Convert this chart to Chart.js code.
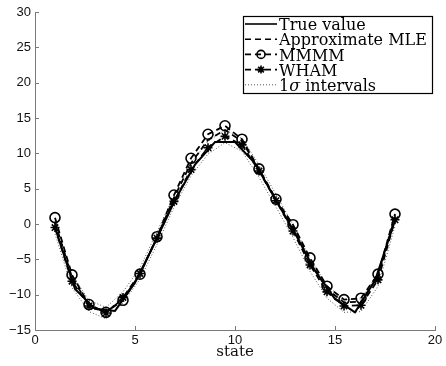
<!DOCTYPE html>
<html><head><meta charset="utf-8">
<script src="https://cdn.jsdelivr.net/npm/chart.js@4.4.1/dist/chart.umd.min.js"></script>
<style>html,body{margin:0;padding:0;background:#fff}#wrap{width:446px;height:366px;position:relative}</style>
</head><body><div id="wrap"><canvas id="c" width="446" height="366"></canvas></div>
<script>
// ---------- data ----------
const trueStates = [1,2,3,4,5,6,7,8,9,10,11,12,13,14,15,16,17,18];
const trueValue  = [-0.5,-9.2,-12.0,-12.3,-8.3,-2.6,3.4,8.4,11.6,11.6,8.6,3.6,-1.3,-6.6,-10.6,-12.5,-8.0,0.5];
const estStates  = [1.00,1.85,2.70,3.55,4.40,5.25,6.10,6.95,7.80,8.65,9.50,10.35,11.20,12.05,12.90,13.75,14.60,15.45,16.30,17.15,18.00];
const mmmm       = [0.9,-7.2,-11.4,-12.5,-10.8,-7.1,-1.8,4.1,9.3,12.7,13.9,12.0,7.8,3.5,-0.1,-4.8,-8.8,-10.7,-10.5,-7.1,1.4];
const approxMLE  = [0.3,-7.6,-11.5,-12.5,-10.6,-7.1,-1.9,3.7,8.6,11.9,13.3,11.7,7.7,3.4,-0.5,-5.3,-9.2,-11.1,-11.0,-7.4,1.0];
const wham       = [-0.5,-8.1,-11.6,-12.6,-10.4,-7.0,-2.0,3.2,7.7,10.8,12.4,11.2,7.5,3.3,-1.0,-5.8,-9.6,-11.6,-11.5,-7.9,0.6];
const sigmaUpper = [0.4,-7.2,-10.8,-11.8,-9.6,-6.2,-1.1,4.0,8.6,11.7,13.3,12.1,8.4,4.2,-0.1,-4.9,-8.7,-10.7,-10.6,-7.0,1.5];
const sigmaLower = [-1.4,-9.0,-12.4,-13.4,-11.2,-7.8,-2.9,2.4,6.8,9.9,11.5,10.3,6.6,2.4,-1.9,-6.7,-10.5,-12.5,-12.4,-8.8,-0.3];
const xTicks = [0,5,10,15,20];
const yTicks = [-15,-10,-5,0,5,10,15,20,25,30];
const legendLabels = ['True value','Approximate MLE','MMMM','WHAM','1σ intervals'];
const xTitle = 'state';

const pts = (xs, ys) => xs.map((x, i) => ({x, y: ys[i]}));
const AXIS = '#7a7a7a';

const ds = [
  {label: legendLabels[0], data: pts(trueStates, trueValue), borderColor:'#000', borderWidth:2, pointRadius:0},
  {label: legendLabels[1], data: pts(estStates, approxMLE), borderColor:'#000', borderWidth:1.8, borderDash:[6,4], pointRadius:0},
  {label: legendLabels[2], data: pts(estStates, mmmm), borderColor:'#000', borderWidth:1.8, borderDash:[6,4],
    pointStyle:'circle', pointRadius:5, pointBorderWidth:1.6, pointBorderColor:'#000', pointBackgroundColor:'rgba(0,0,0,0)'},
  {label: legendLabels[3], data: pts(estStates, wham), borderColor:'#000', borderWidth:1.8, borderDash:[6,4],
    pointStyle:'star', pointRadius:4.5, pointBorderWidth:1.6, pointBorderColor:'#000', pointBackgroundColor:'rgba(0,0,0,0)'},
  {label: legendLabels[4], data: pts(estStates, sigmaUpper), borderColor:'#555', borderWidth:1, borderDash:[1,2], pointRadius:0},
  {label: legendLabels[4] + ' ', data: pts(estStates, sigmaLower), borderColor:'#555', borderWidth:1, borderDash:[1,2], pointRadius:0}
];

const tickPlugin = {
  id: 'inTicks',
  afterDraw(chart) {
    const {ctx, chartArea: a, scales: {x, y}} = chart;
    ctx.save();
    ctx.strokeStyle = AXIS; ctx.lineWidth = 1;
    ctx.beginPath();
    xTicks.forEach(v => { const p = Math.round(x.getPixelForValue(v)) + 0.5; ctx.moveTo(p, a.bottom); ctx.lineTo(p, a.bottom - 4); });
    yTicks.forEach(v => { const p = Math.round(y.getPixelForValue(v)) + 0.5; ctx.moveTo(a.left, p); ctx.lineTo(a.left + 4, p); });
    ctx.stroke();
    ctx.restore();
  }
};

const legendPlugin = {
  id: 'boxLegend',
  afterDraw(chart) {
    const ctx = chart.ctx;
    const bx = 243.5, by = 16.5, bw = 189, bh = 77;
    ctx.save();
    ctx.fillStyle = '#fff'; ctx.fillRect(bx, by, bw, bh);
    ctx.strokeStyle = '#000'; ctx.lineWidth = 1.2; ctx.setLineDash([]);
    ctx.strokeRect(bx, by, bw, bh);
    const rowY = [26, 41.2, 56.4, 71.6, 86.8];
    const x0 = 245, x1 = 277, tx = 279;
    ctx.font = '16px "DejaVu Serif"';
    ctx.textBaseline = 'middle';
    ctx.fillStyle = '#000';
    rowY.forEach((ty, i) => {
      const ly = ty - 2;
      ctx.save();
      ctx.strokeStyle = '#000'; ctx.lineWidth = 1.6;
      if (i === 0) ctx.setLineDash([]);
      else if (i === 4) { ctx.setLineDash([1,2]); ctx.strokeStyle = '#555'; ctx.lineWidth = 1; }
      else ctx.setLineDash([6,4]);
      ctx.beginPath(); ctx.moveTo(x0, ly); ctx.lineTo(x1, ly); ctx.stroke();
      ctx.setLineDash([]);
      const cx = (x0 + x1) / 2;
      if (i === 2) { ctx.fillStyle='#fff'; ctx.beginPath(); ctx.arc(cx, ly, 4, 0, Math.PI*2); ctx.stroke(); }
      if (i === 3) {
        ctx.beginPath();
        for (let k = 0; k < 4; k++) { const an = k * Math.PI / 4; ctx.moveTo(cx - 4*Math.cos(an), ly - 4*Math.sin(an)); ctx.lineTo(cx + 4*Math.cos(an), ly + 4*Math.sin(an)); }
        ctx.stroke();
      }
      ctx.restore();
      if (i === 4) {
        let px = tx;
        ctx.font = '16px "DejaVu Serif"'; ctx.fillText('1', px, ty); px += ctx.measureText('1').width;
        ctx.font = 'italic 16px "DejaVu Serif"'; ctx.fillText('σ', px, ty); px += ctx.measureText('σ').width;
        ctx.font = '16px "DejaVu Serif"'; ctx.fillText(' intervals', px, ty);
      } else {
        ctx.fillText(legendLabels[i], tx, ty);
      }
    });
    ctx.restore();
  }
};

new Chart(document.getElementById('c'), {
  type: 'scatter',
  data: { datasets: ds.map(d => Object.assign({showLine: true, fill: false, tension: 0}, d)) },
  options: {
    responsive: false, animation: false, devicePixelRatio: 1,
    layout: { padding: { left: 0, right: 11, top: 12, bottom: 0 } },
    plugins: { legend: { display: false }, tooltip: { enabled: false } },
    scales: {
      x: {
        type: 'linear', min: 0, max: 20,
        afterBuildTicks: s => { s.ticks = xTicks.map(v => ({value: v})); },
        afterFit: s => { s.height = 36; },
        grid: { display: false, drawTicks: false },
        border: { display: true, color: AXIS, width: 1 },
        ticks: { color: '#111', padding: 3, font: { family: '"Liberation Sans", Arial', size: 13 }, maxRotation: 0 },
        title: { display: true, text: xTitle, color: '#111', font: { family: '"DejaVu Serif"', size: 15 }, padding: { top: 0, bottom: 5 } }
      },
      y: {
        type: 'linear', min: -15, max: 30,
        afterBuildTicks: s => { s.ticks = yTicks.map(v => ({value: v})); },
        afterFit: s => { s.width = 35; },
        grid: { display: false, drawTicks: false },
        border: { display: true, color: AXIS, width: 1 },
        ticks: { color: '#111', padding: 4, font: { family: '"Liberation Sans", Arial', size: 13 },
          callback: v => String(v).replace('-', '\u2212') }
      }
    }
  },
  plugins: [tickPlugin, legendPlugin]
});
</script>
</body></html>
